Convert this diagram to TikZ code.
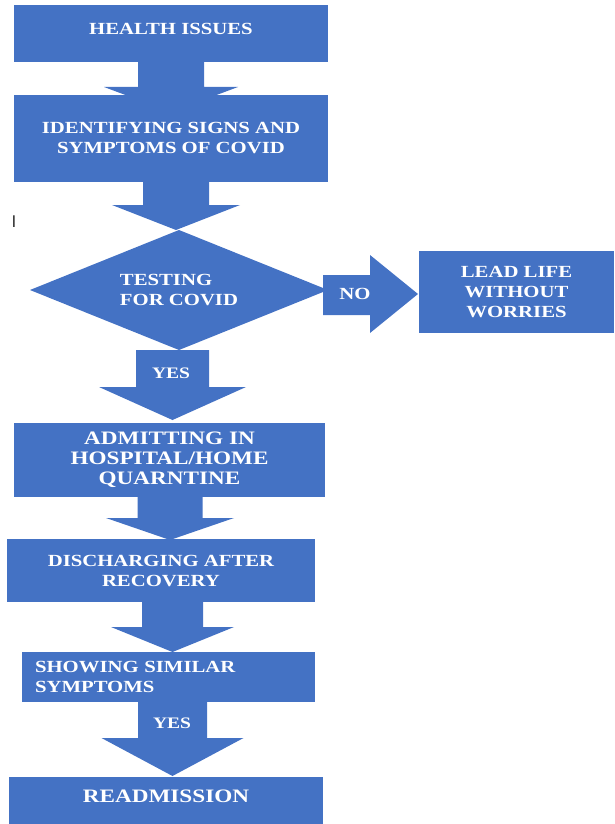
\documentclass[tikz,border=0pt]{standalone}
\usepackage{fontspec}
\setmainfont{Liberation Serif}[FakeStretch=1.22]
\newfontfamily\barfont{Liberation Sans}
\usetikzlibrary{shapes.geometric}
\definecolor{flow}{HTML}{4472C4}
% block arrow pointing down: centre x, top y, head-base y, tip y, shaft half width, head half width
\newcommand{\dnarrow}[6]{\fill[flow] ({#1-#5},#2) -- ({#1+#5},#2) -- ({#1+#5},#3) -- ({#1+#6},#3) -- (#1,#4) -- ({#1-#6},#3) -- ({#1-#5},#3) -- cycle;}
\newcommand{\up}[2]{\raisebox{#1}[\height][\depth]{#2}}
\begin{document}
\begin{tikzpicture}[x=1pt,y=-1pt,
  every node/.style={inner sep=0pt, outer sep=0pt},
  txt/.style={text=white, font=\bfseries\fontsize{17}{20}\selectfont},
  box/.style={txt, fill=flow, align=center},
  bigtxt/.style={font=\bfseries\fontsize{19}{20}\selectfont}]
\useasboundingbox (0,0) rectangle (614,824);
% boxes
\node[box, minimum width=314pt, minimum height=57pt] (b1) at (171,33.5) {\up{5pt}{HEALTH ISSUES}};
\node[box, minimum width=314pt, minimum height=87pt] (b2) at (171,138.5) {IDENTIFYING SIGNS AND\\SYMPTOMS OF COVID};
\node[box, diamond, aspect=2.5, minimum width=298pt, minimum height=120pt, align=left] (d) at (179,290) {TESTING\\FOR COVID};
\node[box, minimum width=195pt, minimum height=82pt] (lead) at (516.5,292) {LEAD LIFE\\WITHOUT\\WORRIES};
\node[box, bigtxt, minimum width=311pt, minimum height=74pt] (adm) at (169.5,460) {ADMITTING IN\\HOSPITAL/HOME\\QUARNTINE};
\node[box, minimum width=308pt, minimum height=63pt] (dis) at (161,570.5) {DISCHARGING AFTER\\RECOVERY};
\node[box, align=left, text width=267pt, inner xsep=13pt, minimum height=50pt] (show) at (168.5,677) {SHOWING SIMILAR\\SYMPTOMS};
\node[box, bigtxt, minimum width=314pt, minimum height=47pt] (readm) at (166,800.5) {\up{4pt}{READMISSION}};
% block arrows
\dnarrow{171}{62}{87}{112}{33}{67}
\dnarrow{176}{182}{205}{230}{33}{64}
\dnarrow{172.5}{350}{387}{420}{36.5}{73.5}
\dnarrow{170}{497}{518}{540}{32.5}{64}
\dnarrow{172.5}{602}{627}{652}{30.5}{61.5}
\dnarrow{172.5}{702}{738}{776}{34.5}{71}
\fill[flow] (323,275) -- (370,275) -- (370,255) -- (418,294) -- (370,333) -- (370,315) -- (323,315) -- cycle;
% arrow labels
\node[txt] (no) at (355,294) {NO};
\node[txt, font=\bfseries\fontsize{16}{20}\selectfont] (yes1) at (171,373) {YES};
\node[txt, font=\bfseries\fontsize{16}{20}\selectfont] (yes2) at (172,723) {YES};
% stray cursor mark
\node[text=black!80, font=\barfont\fontsize{17}{17}\selectfont] (cur) at (14,222) {I};
\end{tikzpicture}
\end{document}
